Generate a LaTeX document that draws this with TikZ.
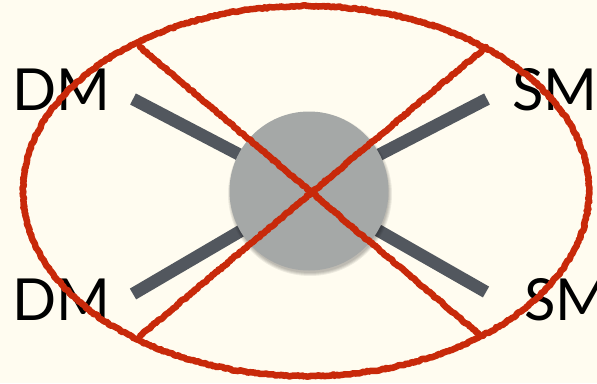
\documentclass[tikz,border=0pt]{standalone}
\usepackage{fontspec}
\setmainfont{Lato}
\definecolor{Paper}{HTML}{FFFCF0}
\definecolor{Stick}{HTML}{52575E}
\definecolor{Hub}{HTML}{A5A8A7}
\definecolor{Crayon}{HTML}{C8290A}
\usetikzlibrary{positioning, calc, decorations.pathmorphing}

\begin{document}
\begin{tikzpicture}[
  x=1pt, y=-1pt,
  lbl/.style={font=\fontsize{58}{58}\selectfont, inner sep=0pt, anchor=base west},
  stickline/.style={line width=12.5pt, Stick},
  hubdisc/.style={circle, fill=Hub, minimum size=159pt, inner sep=0pt},
  halo/.style={circle, fill=black, fill opacity=0.07, inner sep=0pt},
  crayon/.style={Crayon, line width=6.5pt, line cap=round, line join=round,
                 decorate, decoration={random steps, segment length=2pt, amplitude=0.8pt}},
]
  \fill[Paper] (0,0) rectangle (597,383);
  \useasboundingbox (0,0) rectangle (597,383);

  % labels
  \node[lbl] (dmtop) at (12,110) {DM};
  \node[lbl] (smtop) at (512,110) {SM};
  \node[lbl] (dmbot) at (12,320) {DM};
  \node[lbl] (smbot) at (524,320) {SM};

  % stick ends
  \coordinate (tl) at (133,99);
  \coordinate (tr) at (487,99);
  \coordinate (bl) at (133,294);
  \coordinate (br) at (486,292);
  \coordinate (hubc) at (309,191);

  \draw[stickline] (tl) -- (hubc);
  \draw[stickline] (tr) -- (hubc);
  \draw[stickline] (bl) -- (hubc);
  \draw[stickline] (br) -- (hubc);

  % soft shadow under the hub
  \foreach \s in {158,160,162,164}
    \node[halo, minimum size=\s pt] at ($(hubc)+(1,3)$) {};
  \node[hubdisc] (hub) at (hubc) {};

  % crossed out
  \coordinate (xa) at (140,47);
  \coordinate (xb) at (481,336);
  \coordinate (xc) at (486,47);
  \coordinate (xd) at (140,336);
  \draw[crayon] (xa) -- (xb);
  \draw[crayon] (xc) -- (xd);
  \draw[crayon] (306,191) ellipse [x radius=283, y radius=185];
\end{tikzpicture}
\end{document}
